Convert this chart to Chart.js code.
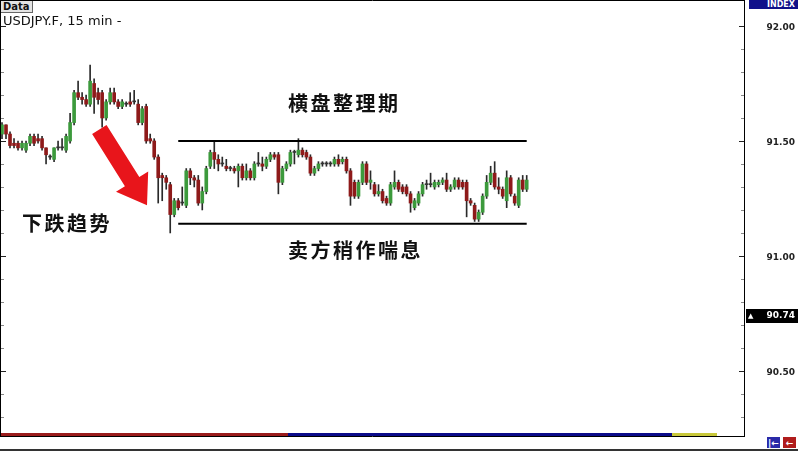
<!DOCTYPE html>
<html>
<head>
<meta charset="utf-8">
<script src="https://cdn.jsdelivr.net/npm/chart.js@4.4.1/dist/chart.umd.min.js"></script>
<style>
  html, body { margin: 0; padding: 0; background: #fff; }
  #wrap { position: relative; width: 798px; height: 451px; overflow: hidden; font-family: "DejaVu Sans", sans-serif; }
  #c { position: absolute; left: 0; top: 0; }
  .note { position: absolute; font-family: "Noto Sans CJK SC", sans-serif; font-weight: bold; font-size: 20px; letter-spacing: 2.5px; color: #111; line-height: 1; white-space: nowrap; }
  #data-tag { position: absolute; left: 1px; top: 1px; height: 11px; padding: 0 2px; background: #e4e4e4; border-right: 1px solid #666; border-bottom: 1px solid #666; font: bold 10px "DejaVu Sans", sans-serif; line-height: 11px; color: #111; }
  #symbol { position: absolute; left: 3px; top: 13px; font: 13px "DejaVu Sans", sans-serif; color: #111; }
  #index-tag { position: absolute; left: 749px; top: 0; width: 49px; height: 9px; background: #10108a; color: #fff; font: bold 8px "DejaVu Sans", sans-serif; line-height: 9px; text-align: right; box-sizing: border-box; padding-right: 3px; }
  .btn { position: absolute; top: 436px; width: 15px; height: 13px; color: #fff; font: bold 9px "DejaVu Sans", sans-serif; line-height: 13px; text-align: center; box-sizing: border-box; border: 1px solid #fff; }
</style>
</head>
<body>
<div id="wrap">
  <canvas id="c" width="798" height="451"></canvas>
  <div id="data-tag">Data</div>
  <div id="symbol">USDJPY.F, 15 min -</div>
  <div id="index-tag">INDEX</div>
  <div class="note" style="left:288px; top:93px;">横盘整理期</div>
  <div class="note" style="left:22px; top:213px;">下跌趋势</div>
  <div class="note" style="left:288px; top:240px;">卖方稍作喘息</div>
  <div class="btn" style="left:766px; background:#2a2aa8;">|&larr;</div>
  <div class="btn" style="left:782px; background:#b01c1c;">&larr;</div>
</div>
<script>
// USDJPY 15 min candles
const opens = [
  91.53,91.57,91.53,91.49,91.49,91.47,91.46,91.49,91.52,91.51,
  91.51,91.47,91.43,91.42,91.47,91.47,91.46,91.50,91.58,91.71,
  91.69,91.68,91.66,91.75,91.71,91.71,91.60,91.67,91.71,91.67,
  91.65,91.66,91.67,91.67,91.66,91.58,91.65,91.51,91.50,91.43,
  91.35,91.34,91.31,91.18,91.24,91.23,91.22,91.37,91.34,91.33,
  91.23,91.28,91.39,91.45,91.42,91.40,91.39,91.38,91.38,91.37,
  91.39,91.34,91.37,91.34,91.40,91.40,91.39,91.42,91.44,91.44,
  91.32,91.38,91.40,91.45,91.44,91.46,91.45,91.43,91.36,91.38,
  91.40,91.40,91.40,91.40,91.42,91.41,91.42,91.37,91.32,91.26,
  91.32,91.40,91.32,91.31,91.27,91.28,91.25,91.23,91.30,91.32,
  91.30,91.30,91.27,91.21,91.23,91.27,91.31,91.31,91.30,91.31,
  91.32,91.33,91.29,91.30,91.33,91.32,91.32,91.24,91.22,91.16,
  91.19,91.26,91.32,91.36,91.30,91.29,91.24,91.34,91.26,91.22,
  91.33,91.29
];
const highs = [
  91.58,91.57,91.54,91.51,91.50,91.50,91.50,91.53,91.53,91.53,
  91.52,91.47,91.44,91.47,91.50,91.51,91.53,91.62,91.72,91.76,
  91.71,91.70,91.83,91.77,91.73,91.72,91.68,91.73,91.73,91.68,
  91.68,91.67,91.71,91.72,91.68,91.65,91.66,91.53,91.51,91.44,
  91.36,91.35,91.32,91.25,91.25,91.30,91.38,91.38,91.35,91.35,
  91.30,91.39,91.46,91.50,91.44,91.43,91.42,91.39,91.39,91.40,
  91.40,91.40,91.38,91.41,91.45,91.43,91.43,91.45,91.45,91.45,
  91.39,91.41,91.46,91.46,91.51,91.47,91.46,91.44,91.39,91.41,
  91.41,91.41,91.41,91.43,91.44,91.43,91.43,91.38,91.33,91.33,
  91.41,91.41,91.37,91.32,91.31,91.29,91.26,91.32,91.37,91.33,
  91.31,91.31,91.28,91.25,91.28,91.32,91.33,91.36,91.33,91.33,
  91.34,91.36,91.31,91.34,91.34,91.33,91.33,91.25,91.23,91.20,
  91.27,91.35,91.39,91.41,91.34,91.30,91.37,91.35,91.27,91.34,
  91.35,91.35
];
const lows = [
  91.51,91.51,91.47,91.47,91.46,91.46,91.45,91.48,91.48,91.49,
  91.46,91.40,91.42,91.41,91.46,91.46,91.45,91.49,91.57,91.68,
  91.66,91.65,91.65,91.62,91.66,91.56,91.59,91.66,91.66,91.64,
  91.64,91.65,91.65,91.66,91.57,91.57,91.49,91.49,91.42,91.23,
  91.24,91.29,91.10,91.17,91.20,91.22,91.21,91.31,91.30,91.22,
  91.20,91.27,91.38,91.38,91.37,91.39,91.37,91.37,91.36,91.30,
  91.33,91.33,91.33,91.33,91.39,91.37,91.38,91.41,91.42,91.27,
  91.31,91.37,91.39,91.40,91.43,91.43,91.42,91.35,91.35,91.37,
  91.39,91.39,91.39,91.39,91.39,91.40,91.36,91.22,91.25,91.25,
  91.31,91.31,91.29,91.26,91.26,91.23,91.22,91.22,91.29,91.28,
  91.27,91.26,91.19,91.20,91.22,91.26,91.29,91.30,91.29,91.30,
  91.31,91.28,91.28,91.29,91.29,91.29,91.17,91.22,91.15,91.15,
  91.18,91.25,91.31,91.29,91.27,91.25,91.21,91.26,91.22,91.21,
  91.28,91.28
];
const closes = [
  91.57,91.53,91.48,91.48,91.47,91.49,91.49,91.52,91.49,91.50,
  91.47,91.44,91.43,91.47,91.47,91.47,91.52,91.58,91.71,91.69,
  91.68,91.66,91.76,91.69,91.68,91.60,91.67,91.71,91.67,91.65,
  91.67,91.66,91.66,91.67,91.58,91.64,91.50,91.50,91.43,91.34,
  91.34,91.32,91.18,91.24,91.21,91.23,91.37,91.34,91.33,91.23,
  91.28,91.38,91.45,91.42,91.40,91.40,91.38,91.38,91.37,91.39,
  91.34,91.37,91.34,91.40,91.40,91.39,91.42,91.44,91.43,91.32,
  91.38,91.40,91.45,91.45,91.46,91.44,91.43,91.36,91.38,91.40,
  91.40,91.40,91.40,91.42,91.40,91.42,91.37,91.26,91.26,91.32,
  91.40,91.32,91.33,91.27,91.28,91.24,91.23,91.31,91.32,91.29,
  91.28,91.27,91.23,91.24,91.27,91.31,91.31,91.31,91.32,91.32,
  91.33,91.29,91.30,91.33,91.30,91.30,91.24,91.23,91.16,91.19,
  91.26,91.32,91.36,91.30,91.29,91.26,91.34,91.27,91.23,91.33,
  91.29,91.33
];

const slotCount = 186;          // visible 15-min slots across the window
const rangeTop = 91.50;         // upper line of the sideways range
const rangeBottom = 91.14;      // lower line
const rangeFrom = 44, rangeTo = 131;
const arrowFrom = { i: 24.3, p: 91.55 };
const arrowTo = { i: 36.2, p: 91.22 };
const markerPrice = 90.74;
const yMin = 90.23, yMax = 92.113;

const labels = Array.from({ length: slotCount }, (_, i) => String(i));
const wicks = highs.map((h, i) => [lows[i], h]);
const bodies = opens.map((o, i) => [o, closes[i]]);
const bodyColors = opens.map((o, i) => closes[i] > o ? '#3c9a3c' : (closes[i] < o ? '#8e1a1a' : '#333'));
const topLine = labels.map((_, i) => (i === rangeFrom || i === rangeTo) ? rangeTop : null);
const bottomLine = labels.map((_, i) => (i === rangeFrom || i === rangeTo) ? rangeBottom : null);

const decor = {
    id: 'decor',
    afterDraw(chart) {
        const ctx = chart.ctx;
        const a = chart.chartArea;
        const y = chart.scales.y, x = chart.scales.x;
        ctx.save();
        // bottom session strip
        ctx.fillStyle = '#9a1c1c'; ctx.fillRect(0, 433, 288, 3);
        ctx.fillStyle = '#0c0c8a'; ctx.fillRect(288, 433, 384, 3);
        ctx.fillStyle = '#c8c83a'; ctx.fillRect(672, 433, 45, 3);
        // frame
        ctx.strokeStyle = '#000'; ctx.lineWidth = 1;
        ctx.beginPath();
        ctx.moveTo(0.5, 0); ctx.lineTo(0.5, 437);
        ctx.moveTo(0, 0.5); ctx.lineTo(a.right, 0.5);
        ctx.moveTo(a.right - 0.5, 0); ctx.lineTo(a.right - 0.5, 437);
        ctx.moveTo(0, 436.5); ctx.lineTo(a.right, 436.5);
        ctx.stroke();
        ctx.fillStyle = '#333'; ctx.fillRect(0, 449, 798, 2);
        // price ticks inside the frame
        y.ticks.forEach(t => {
            const v = Math.round(t.value * 10);
            if (Math.abs(t.value * 10 - v) > 1e-6) return;
            const py = Math.round(y.getPixelForValue(t.value)) + 0.5;
            const len = v % 5 === 0 ? 5 : 3;
            ctx.strokeStyle = v % 5 === 0 ? '#222' : '#888';
            ctx.beginPath();
            ctx.moveTo(a.right - 1 - len, py); ctx.lineTo(a.right - 1, py);
            ctx.moveTo(1, py); ctx.lineTo(1 + len, py);
            ctx.stroke();
        });
        // red arrow
        const x0 = x.getPixelForValue(arrowFrom.i), y0 = y.getPixelForValue(arrowFrom.p);
        const x1 = x.getPixelForValue(arrowTo.i), y1 = y.getPixelForValue(arrowTo.p);
        const ang = Math.atan2(y1 - y0, x1 - x0);
        const len = Math.hypot(x1 - x0, y1 - y0);
        ctx.translate(x0, y0); ctx.rotate(ang);
        ctx.fillStyle = '#e8151b';
        ctx.beginPath();
        ctx.moveTo(0, -8.5); ctx.lineTo(len - 28, -8.5); ctx.lineTo(len - 28, -19);
        ctx.lineTo(len, 0);
        ctx.lineTo(len - 28, 19); ctx.lineTo(len - 28, 8.5); ctx.lineTo(0, 8.5);
        ctx.closePath(); ctx.fill();
        ctx.setTransform(1, 0, 0, 1, 0, 0);
        // last price marker
        const my = Math.round(y.getPixelForValue(markerPrice));
        ctx.fillStyle = '#000'; ctx.fillRect(a.right + 1, my - 7, 798 - a.right - 1, 14);
        ctx.fillStyle = '#fff';
        ctx.font = 'bold 7px "DejaVu Sans"'; ctx.textBaseline = 'middle'; ctx.textAlign = 'left';
        ctx.fillText('▲', a.right + 3, my);
        ctx.font = 'bold 9px "DejaVu Sans"'; ctx.textAlign = 'right';
        ctx.fillText(markerPrice.toFixed(2), 795, my);
        ctx.restore();
    }
};

new Chart(document.getElementById('c'), {
    type: 'bar',
    data: {
        labels: labels,
        datasets: [
            { type: 'line', data: topLine, borderColor: '#000', borderWidth: 2, pointRadius: 0, spanGaps: true, order: 0 },
            { type: 'line', data: bottomLine, borderColor: '#000', borderWidth: 2, pointRadius: 0, spanGaps: true, order: 0 },
            { data: bodies, backgroundColor: bodyColors, borderColor: bodyColors, borderWidth: 0, barThickness: 3, minBarLength: 1, grouped: false, order: 1 },
            { data: wicks, backgroundColor: '#2a2a2a', barThickness: 1, grouped: false, order: 2 }
        ]
    },
    options: {
        responsive: false,
        animation: false,
        devicePixelRatio: 1,
        layout: { padding: { left: 0, top: 0, right: 3, bottom: 18 } },
        plugins: { legend: { display: false }, tooltip: { enabled: false } },
        scales: {
            x: { display: false, offset: true },
            y: {
                position: 'right',
                min: yMin, max: yMax,
                afterFit: s => { s.width = 50; s.paddingTop = 0; s.paddingBottom = 0; },
                grid: { display: false },
                border: { display: false },
                ticks: {
                    stepSize: 0.1,
                    autoSkip: false,
                    crossAlign: 'far',
                    padding: 5,
                    labelOffset: 2,
                    color: '#222',
                    font: { family: 'DejaVu Sans', size: 9, weight: 'bold' },
                    callback: v => {
                        const k = Math.round(v * 10);
                        return (Math.abs(v * 10 - k) < 1e-6 && k % 5 === 0) ? (k / 10).toFixed(2) : '';
                    }
                }
            }
        }
    },
    plugins: [decor]
});
</script>
</body>
</html>
